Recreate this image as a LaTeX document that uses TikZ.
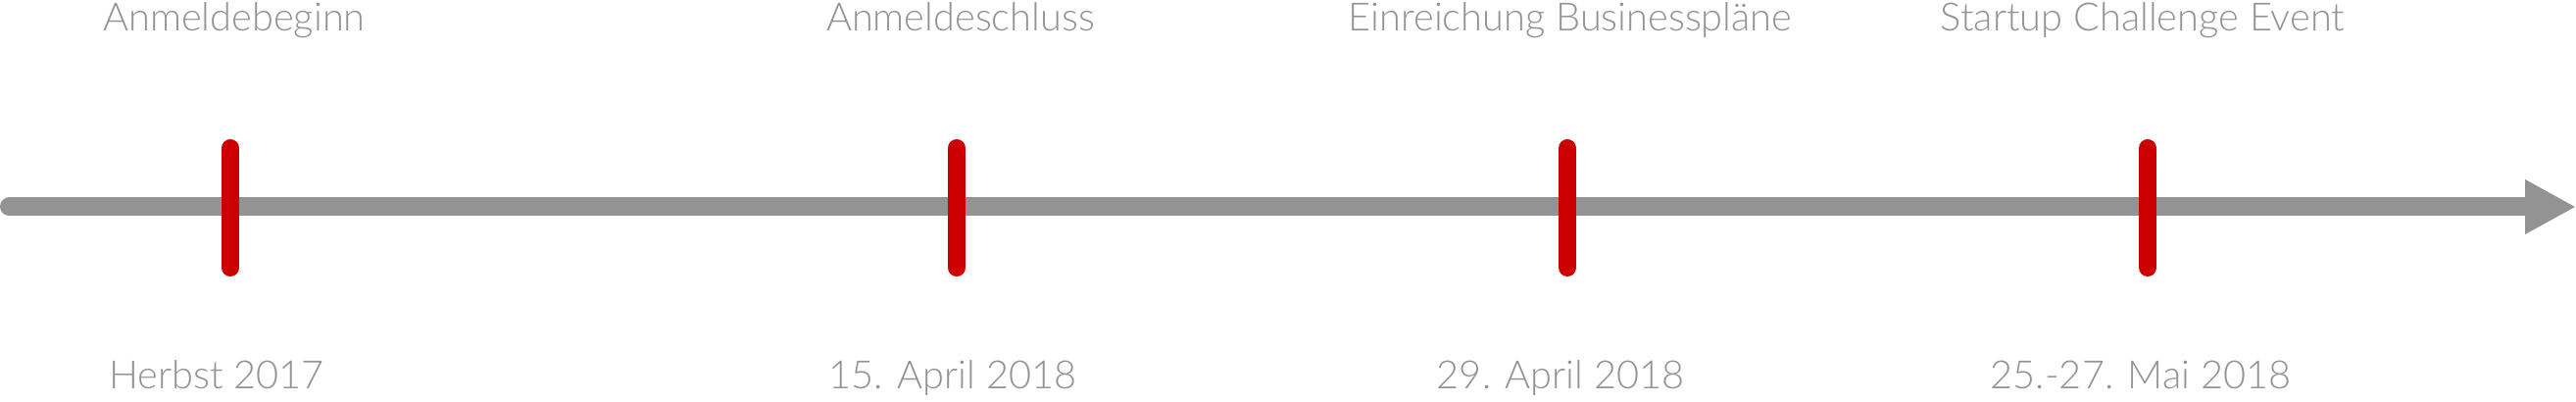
\documentclass[tikz,border=0pt]{standalone}
\usepackage{fontspec}
\setmainfont{Lato}[UprightFont=* Light]
\usepackage{tikz}
\usetikzlibrary{arrows.meta}
\definecolor{axisgrey}{HTML}{939393}
\definecolor{markred}{HTML}{CC0000}

\begin{document}
\begin{tikzpicture}
[x=0.01cm,y=-0.01cm
,axis/.style={draw=axisgrey,line width=0.19cm,line cap=round,arrows={-Triangle[length=5.2mm,width=5.2mm]}}
,datemark/.style={draw=markred,line width=0.18cm,line cap=round}
,lbl/.style={anchor=base,text=axisgrey,font=\fontsize{11.3}{13}\selectfont,inner sep=0pt}]
\useasboundingbox (0,0) rectangle (2628,410);
\coordinate (s) at (9.5,211);
\coordinate (e) at (2628,211);
\draw[axis] (s) -- (e);
\coordinate (t1) at (235,151);
\coordinate (b1) at (235,273);
\coordinate (t2) at (976,151);
\coordinate (b2) at (976,273);
\coordinate (t3) at (1599,151);
\coordinate (b3) at (1599,273);
\coordinate (t4) at (2191,151);
\coordinate (b4) at (2191,273);
\draw[datemark] (t1) -- (b1);
\draw[datemark] (t2) -- (b2);
\draw[datemark] (t3) -- (b3);
\draw[datemark] (t4) -- (b4);
\node[lbl] (u1) at (239,32) {Anmeldebeginn};
\node[lbl] (u2) at (980,32) {Anmeldeschluss};
\node[lbl] (u3) at (1602,32) {Einreichung Businesspläne};
\node[lbl] (u4) at (2186,32) {Startup Challenge Event};
\node[lbl] (d1) at (221,397) {Herbst 2017};
\node[lbl] (d2) at (972,397) {15. April 2018};
\node[lbl] (d3) at (1592,397) {29. April 2018};
\node[lbl] (d4) at (2184,397) {25.-27. Mai 2018};
\end{tikzpicture}
\end{document}
